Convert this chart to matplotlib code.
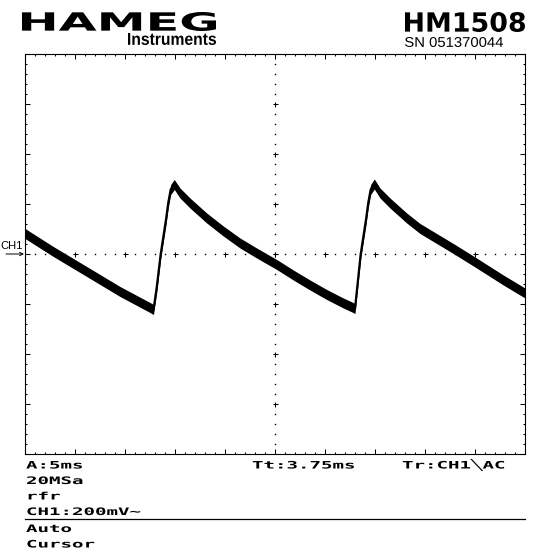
import numpy as np
import matplotlib
matplotlib.use('Agg')
import matplotlib.pyplot as plt
from matplotlib.textpath import TextPath
from matplotlib.patches import PathPatch
from matplotlib.path import Path
from matplotlib.font_manager import FontProperties
from matplotlib.ticker import MultipleLocator

# trace: time in ms (5 ms/div), level in mV (200 mV/div)
t_ms = [0.0, 2.83, 6.17, 9.5, 12.5, 12.85, 13.17, 13.57, 14.1, 14.33, 14.57, 14.93,
        15.5, 16.5, 18.17, 19.83, 21.5, 23.17, 25.17, 26.83, 28.5, 30.17, 31.83,
        32.7, 33.0, 33.57, 34.1, 34.33, 34.57, 34.93, 35.5, 36.5, 38.17, 39.5,
        42.83, 45.0, 47.83, 49.83, 50.0]
ch1_mv = [82, 10, -70, -150, -214, -222, -134, 0, 138, 206, 258, 278,
          244, 204, 144, 92, 44, 4, -42, -84, -124, -162, -196,
          -212, -218, 0, 138, 206, 258, 280, 244, 204, 144, 102,
          22, -32, -104, -152, -156]

header_brand = "HAMEG"
header_sub = "Instruments"
header_model = "HM1508"
header_sn = "SN 051370044"
status_rows = ["A:5ms", "20MSa", "rfr", "CH1:200mV~"]
status_mid = "Tt:3.75ms"
status_right = "Tr:CH1\u2572AC"
menu_rows = ["Auto", "Cursor"]

W, H = 550, 550
fig = plt.figure(figsize=(W / 100, H / 100), dpi=100)
fig.patch.set_facecolor('white')

# graticule area: 500 x 400 px, 10 x 8 divisions
ax = fig.add_axes([25 / W, (H - 454) / H, 500 / W, 400 / H])
ax.set_xlim(0, 50)
ax.set_ylim(-800, 800)
ax.set_facecolor('white')
for sp in ax.spines.values():
    sp.set_linewidth(0.8)
    sp.set_color('black')
ax.xaxis.set_major_locator(MultipleLocator(5))
ax.xaxis.set_minor_locator(MultipleLocator(1))
ax.yaxis.set_major_locator(MultipleLocator(200))
ax.yaxis.set_minor_locator(MultipleLocator(40))
ax.tick_params(which='both', direction='in', top=True, right=True,
               labelbottom=False, labelleft=False, width=0.75, color='black')
ax.tick_params(which='major', length=3.6)
ax.tick_params(which='minor', length=1.6)

# centre cross: dots every minor step, small crosses at the majors
xs = np.arange(1, 50, 1)
ax.plot(xs, np.zeros_like(xs), ls='none', marker='s', ms=1.0, mew=0, color='black')
xm = np.arange(5, 50, 5)
ax.plot(xm, np.zeros_like(xm), ls='none', marker='+', ms=3.6, mew=0.75, color='black')
ys = np.arange(-760, 800, 40)
ax.plot(np.full_like(ys, 25), ys, ls='none', marker='s', ms=1.0, mew=0, color='black')
ym = np.arange(-600, 800, 200)
ax.plot(np.full_like(ym, 25), ym, ls='none', marker='+', ms=3.6, mew=0.75, color='black')

# trace with its noise band
t = np.array(t_ms)
v = np.array(ch1_mv, dtype=float)
noise = 20
ax.fill_between(t, v - noise, v + noise, color='black', lw=0, zorder=3)
ax.plot(t, v, color='black', lw=1.6, zorder=3, solid_joinstyle='round')

# overlay in pixel coordinates for the screen texts
ov = fig.add_axes([0, 0, 1, 1], facecolor='none')
ov.set_xlim(0, W)
ov.set_ylim(H, 0)
ov.axis('off')


def fit_text(s, x0, x1, y0, y1, prop):
    tp = TextPath((0, 0), s, size=1, prop=prop)
    ext = tp.get_extents()
    vv = tp.vertices.copy()
    vv[:, 0] = x0 + (vv[:, 0] - ext.x0) / ext.width * (x1 - x0)
    vv[:, 1] = y1 - (vv[:, 1] - ext.y0) / ext.height * (y1 - y0)
    ov.add_patch(PathPatch(Path(vv, tp.codes), fc='black', lw=0))


mono = FontProperties(family='DejaVu Sans Mono', weight='bold')


def lcd_text(s, x, base, cap=7.5, adv=11.5):
    tp = TextPath((0, 0), s, size=1, prop=mono)
    vv = tp.vertices.copy()
    vv[:, 0] = x + vv[:, 0] * adv / 0.602
    vv[:, 1] = base - vv[:, 1] * cap / 0.729
    ov.add_patch(PathPatch(Path(vv, tp.codes), fc='black', lw=0))


bold = FontProperties(family='DejaVu Sans', weight='bold')
fit_text(header_brand, 22, 216, 12, 31, bold)
fit_text(header_sub, 128, 216, 33, 45, FontProperties(family='Liberation Sans', weight='bold'))
fit_text(header_model, 405, 525, 12, 32, bold)
fit_text(header_sn, 405, 503, 37, 47, FontProperties(family='Liberation Sans'))

# channel marker
ov.text(0, 249, "CH1", fontsize=8, family='Liberation Sans', va='baseline', ha='left')
ov.annotate("", xy=(24, 254), xytext=(6, 254),
            arrowprops=dict(arrowstyle='->', lw=0.7, color='black',
                            shrinkA=0, shrinkB=0, mutation_scale=6))

# status lines
for i, s in enumerate(status_rows):
    lcd_text(s, 26, 468.5 + i * 15.5)
lcd_text(status_mid, 252, 468.5)
lcd_text(status_right, 402, 468.5)
ov.plot([25, 525], [518.5, 518.5], color='black', lw=0.9)
for i, s in enumerate(menu_rows):
    lcd_text(s, 26, 532 + i * 15.5)

fig.savefig('out.png', dpi=100)
